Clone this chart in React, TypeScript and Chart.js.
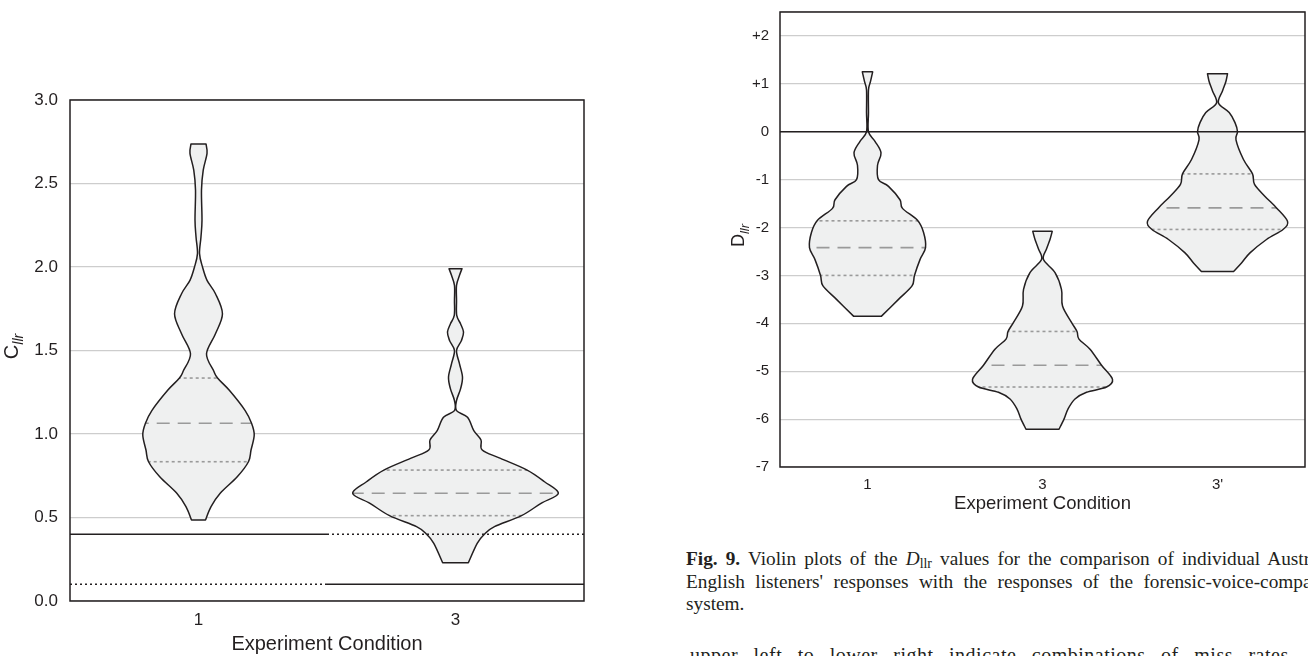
import React, { useEffect, useRef } from "react";
import { Chart, registerables } from "chart.js";

Chart.register(...registerables);

// ---------- C_llr panel ----------
const cllrConditions = ["1", "3"];
// violin outlines: value levels (bottom to top) with relative density (1 = widest violin)
const cllrLevels1 = [0.485, 0.565, 0.645, 0.744, 0.834, 0.904, 0.994, 1.064, 1.14, 1.26, 1.335, 1.38, 1.48, 1.6, 1.72, 1.84, 1.92, 2.0, 2.08, 2.18, 2.28, 2.46, 2.58, 2.68, 2.737];
const cllrDensity1 = [0.068, 0.122, 0.211, 0.377, 0.486, 0.511, 0.542, 0.516, 0.454, 0.302, 0.185, 0.146, 0.078, 0.165, 0.233, 0.165, 0.083, 0.039, 0.01, 0.024, 0.034, 0.029, 0.046, 0.083, 0.073];
const cllrLevels3 = [0.229, 0.345, 0.4, 0.445, 0.511, 0.585, 0.645, 0.714, 0.784, 0.854, 0.904, 0.964, 1.02, 1.1, 1.14, 1.2, 1.27, 1.34, 1.42, 1.5, 1.56, 1.61, 1.66, 1.71, 1.8, 1.89, 1.95, 1.99];
const cllrDensity3 = [0.125, 0.211, 0.282, 0.379, 0.642, 0.832, 1.0, 0.866, 0.697, 0.438, 0.26, 0.248, 0.178, 0.117, 0.01, 0.01, 0.049, 0.068, 0.039, 0.01, 0.058, 0.078, 0.049, 0.012, 0.01, 0.01, 0.039, 0.063];
const cllrQ1 = [0.834, 0.511];
const cllrMedian = [1.064, 0.645];
const cllrQ3 = [1.335, 0.784];
// reference levels per condition
const cllrSolidRef = [0.4, 0.1];
const cllrDottedRef = [0.1, 0.4];

// ---------- D_llr panel ----------
const dllrConditions = ["1", "3", "3'"];
const dllrLevels1 = [-3.85, -3.5, -3.22, -3.0, -2.67, -2.42, -2.1, -1.85, -1.6, -1.42, -1.14, -1.0, -0.7, -0.44, -0.2, 0.0, 0.4, 0.87, 1.05, 1.25];
const dllrDensity1 = [0.2, 0.443, 0.636, 0.671, 0.75, 0.829, 0.8, 0.714, 0.5, 0.464, 0.3, 0.157, 0.143, 0.193, 0.107, 0.014, 0.014, 0.014, 0.043, 0.074];
const dllrLevels3 = [-6.21, -6.0, -5.79, -5.58, -5.44, -5.33, -5.17, -4.875, -4.54, -4.33, -4.17, -3.98, -3.64, -3.29, -2.94, -2.67, -2.45, -2.25, -2.08];
const dllrDensity3 = [0.236, 0.307, 0.364, 0.464, 0.629, 0.914, 1.0, 0.843, 0.679, 0.521, 0.493, 0.414, 0.286, 0.271, 0.179, 0.014, 0.057, 0.107, 0.139];
const dllrLevels3p = [-2.92, -2.74, -2.53, -2.25, -2.04, -1.87, -1.59, -1.35, -1.1, -0.88, -0.58, -0.17, 0.0, 0.19, 0.4, 0.6, 0.85, 1.05, 1.21];
const dllrDensity3p = [0.229, 0.343, 0.464, 0.7, 0.936, 1.0, 0.843, 0.679, 0.529, 0.5, 0.371, 0.264, 0.286, 0.25, 0.167, 0.014, 0.071, 0.12, 0.143];
const dllrQ1 = [-3.0, -5.33, -2.04];
const dllrMedian = [-2.42, -4.875, -1.59];
const dllrQ3 = [-1.86, -4.17, -0.88];

const INK = "#231f20";
const FILL = "#eff0f0";
const GRID = "#cdcdcd";
const QUART = "#9a9a9a";
const SANS = '"Liberation Sans", Arial, sans-serif';

type Pt = { x: number; y: number };
type ViolinSpec = { levels: number[]; density: number[]; q1: number; median: number; q3: number };

const cllrViolins: ViolinSpec[] = [
  { levels: cllrLevels1, density: cllrDensity1, q1: cllrQ1[0], median: cllrMedian[0], q3: cllrQ3[0] },
  { levels: cllrLevels3, density: cllrDensity3, q1: cllrQ1[1], median: cllrMedian[1], q3: cllrQ3[1] },
];
const dllrViolins: ViolinSpec[] = [
  { levels: dllrLevels1, density: dllrDensity1, q1: dllrQ1[0], median: dllrMedian[0], q3: dllrQ3[0] },
  { levels: dllrLevels3, density: dllrDensity3, q1: dllrQ1[1], median: dllrMedian[1], q3: dllrQ3[1] },
  { levels: dllrLevels3p, density: dllrDensity3p, q1: dllrQ1[2], median: dllrMedian[2], q3: dllrQ3[2] },
];

// Catmull-Rom spline through the points, continuing the current path
function traceSmooth(ctx: CanvasRenderingContext2D, pts: Pt[]) {
  ctx.lineTo(pts[0].x, pts[0].y);
  const t = 1 / 6;
  for (let i = 0; i < pts.length - 1; i++) {
    const p0 = pts[i - 1] || pts[i];
    const p1 = pts[i];
    const p2 = pts[i + 1];
    const p3 = pts[i + 2] || p2;
    ctx.bezierCurveTo(
      p1.x + (p2.x - p0.x) * t,
      p1.y + (p2.y - p0.y) * t,
      p2.x - (p3.x - p1.x) * t,
      p2.y - (p3.y - p1.y) * t,
      p2.x,
      p2.y
    );
  }
}

function violinPlugin(violins: ViolinSpec[]) {
  return {
    id: "violins",
    afterDatasetsDraw(chart: any) {
      const { ctx, scales } = chart;
      const xs = scales.x;
      const ys = scales.y;
      const step = xs.getPixelForValue(1) - xs.getPixelForValue(0);
      const maxHalf = 0.4 * step;
      violins.forEach((v, i) => {
        const cx = xs.getPixelForValue(i);
        const right: Pt[] = v.levels.map((lv, k) => ({ x: cx + v.density[k] * maxHalf, y: ys.getPixelForValue(lv) }));
        const left: Pt[] = right.map((p) => ({ x: 2 * cx - p.x, y: p.y })).reverse();
        const outline = () => {
          ctx.beginPath();
          ctx.moveTo(left[left.length - 1].x, left[left.length - 1].y);
          traceSmooth(ctx, right);
          traceSmooth(ctx, left);
          ctx.closePath();
        };
        ctx.save();
        outline();
        ctx.fillStyle = FILL;
        ctx.fill();
        ctx.clip();
        ctx.strokeStyle = QUART;
        ctx.lineWidth = 1.6;
        const hline = (val: number, dash: number[]) => {
          const py = ys.getPixelForValue(val);
          ctx.setLineDash(dash);
          ctx.beginPath();
          ctx.moveTo(cx - maxHalf - 2, py);
          ctx.lineTo(cx + maxHalf + 2, py);
          ctx.stroke();
        };
        hline(v.q1, [3, 3]);
        hline(v.q3, [3, 3]);
        hline(v.median, [13, 8]);
        ctx.restore();
        ctx.save();
        outline();
        ctx.strokeStyle = INK;
        ctx.lineWidth = 1.5;
        ctx.lineJoin = "round";
        ctx.stroke();
        ctx.restore();
      });
    },
  };
}

function framePlugin() {
  return {
    id: "frame",
    afterDraw(chart: any) {
      const { ctx, chartArea: a } = chart;
      ctx.save();
      ctx.strokeStyle = INK;
      ctx.lineWidth = 1.5;
      ctx.strokeRect(a.left, a.top, a.right - a.left, a.bottom - a.top);
      ctx.restore();
    },
  };
}

function refLinesPlugin(solid: number[], dotted: number[]) {
  return {
    id: "refLines",
    afterDraw(chart: any) {
      const { ctx, scales } = chart;
      const xs = scales.x;
      const ys = scales.y;
      const step = xs.getPixelForValue(1) - xs.getPixelForValue(0);
      ctx.save();
      ctx.strokeStyle = INK;
      ctx.lineWidth = 1.5;
      solid.forEach((val, i) => {
        const cx = xs.getPixelForValue(i);
        const py = ys.getPixelForValue(val);
        ctx.setLineDash([]);
        ctx.beginPath();
        ctx.moveTo(cx - step / 2, py);
        ctx.lineTo(cx + step / 2, py);
        ctx.stroke();
      });
      dotted.forEach((val, i) => {
        const cx = xs.getPixelForValue(i);
        const py = ys.getPixelForValue(val);
        ctx.setLineDash([2, 3]);
        ctx.beginPath();
        ctx.moveTo(cx - step / 2, py);
        ctx.lineTo(cx + step / 2, py);
        ctx.stroke();
      });
      ctx.restore();
    },
  };
}

function zeroLinePlugin() {
  return {
    id: "zeroLine",
    afterDraw(chart: any) {
      const { ctx, chartArea: a, scales } = chart;
      const py = scales.y.getPixelForValue(0);
      ctx.save();
      ctx.strokeStyle = INK;
      ctx.lineWidth = 1.5;
      ctx.beginPath();
      ctx.moveTo(a.left, py);
      ctx.lineTo(a.right, py);
      ctx.stroke();
      ctx.restore();
    },
  };
}

function yTitlePlugin(main: string, sub: string, mainSize: number, subSize: number, xPos: number, dy: number) {
  return {
    id: "yTitle",
    afterDraw(chart: any) {
      const { ctx, chartArea: a } = chart;
      const cy = (a.top + a.bottom) / 2 + dy;
      ctx.save();
      ctx.fillStyle = INK;
      ctx.font = `${mainSize}px ${SANS}`;
      const w1 = ctx.measureText(main).width;
      ctx.font = `italic ${subSize}px ${SANS}`;
      const w2 = ctx.measureText(sub).width;
      ctx.translate(xPos, cy);
      ctx.rotate(-Math.PI / 2);
      ctx.textBaseline = "alphabetic";
      const start = -(w1 + w2) / 2;
      ctx.font = `${mainSize}px ${SANS}`;
      ctx.fillText(main, start, 0);
      ctx.font = `italic ${subSize}px ${SANS}`;
      ctx.fillText(sub, start + w1, subSize * 0.35);
      ctx.restore();
    },
  };
}

function CllrChart() {
  const ref = useRef<HTMLCanvasElement | null>(null);
  useEffect(() => {
    if (!ref.current) return;
    const chart = new Chart(ref.current, {
      type: "line",
      data: { labels: cllrConditions, datasets: [] },
      options: {
        animation: false,
        responsive: false,
        maintainAspectRatio: false,
        devicePixelRatio: 1,
        layout: { padding: { top: 100, right: 16, bottom: 0, left: 0 } },
        plugins: { legend: { display: false }, tooltip: { enabled: false } },
        scales: {
          x: {
            type: "category",
            offset: true,
            grid: { display: false, drawTicks: false },
            border: { display: false },
            ticks: { color: INK, font: { family: SANS, size: 17 }, padding: 9 },
            title: {
              display: true,
              text: "Experiment Condition",
              color: INK,
              font: { family: SANS, size: 20 },
              padding: { top: 0, bottom: 0 },
            },
            afterFit: (s: any) => {
              s.height = 55;
            },
          },
          y: {
            min: 0,
            max: 3,
            ticks: {
              stepSize: 0.5,
              color: INK,
              font: { family: SANS, size: 17 },
              padding: 12,
              callback: (v: any) => Number(v).toFixed(1),
            },
            grid: { color: GRID, lineWidth: 1.2, drawTicks: false },
            border: { display: false },
            afterFit: (s: any) => {
              s.width = 70;
              s.paddingTop = 0;
              s.paddingBottom = 0;
            },
          },
        },
      } as any,
      plugins: [
        violinPlugin(cllrViolins),
        refLinesPlugin(cllrSolidRef, cllrDottedRef),
        framePlugin(),
        yTitlePlugin("C", "llr", 20, 14, 18, -4),
      ] as any,
    });
    return () => chart.destroy();
  }, []);
  return (
    <canvas
      ref={ref}
      width={600}
      height={656}
      style={{ position: "absolute", left: 0, top: 0, width: 600, height: 656, display: "block" }}
    />
  );
}

function DllrChart() {
  const ref = useRef<HTMLCanvasElement | null>(null);
  useEffect(() => {
    if (!ref.current) return;
    const chart = new Chart(ref.current, {
      type: "line",
      data: { labels: dllrConditions, datasets: [] },
      options: {
        animation: false,
        responsive: false,
        maintainAspectRatio: false,
        devicePixelRatio: 1,
        layout: { padding: { top: 12, right: 3, bottom: 0, left: 0 } },
        plugins: { legend: { display: false }, tooltip: { enabled: false } },
        scales: {
          x: {
            type: "category",
            offset: true,
            grid: { display: false, drawTicks: false },
            border: { display: false },
            ticks: { color: INK, font: { family: SANS, size: 15 }, padding: 9 },
            title: {
              display: true,
              text: "Experiment Condition",
              color: INK,
              font: { family: SANS, size: 18.5 },
              padding: { top: 0, bottom: 5 },
            },
            afterFit: (s: any) => {
              s.height = 53;
            },
          },
          y: {
            min: -7,
            max: 2.5,
            ticks: {
              stepSize: 1,
              color: INK,
              font: { family: SANS, size: 15 },
              padding: 11,
              callback: (v: any) => {
                const n = Number(v);
                if (!Number.isInteger(n)) return "";
                return n > 0 ? "+" + n : String(n);
              },
            },
            grid: { color: GRID, lineWidth: 1.2, drawTicks: false },
            border: { display: false },
            afterFit: (s: any) => {
              s.width = 90;
              s.paddingTop = 0;
              s.paddingBottom = 0;
            },
          },
        },
      } as any,
      plugins: [
        violinPlugin(dllrViolins),
        zeroLinePlugin(),
        framePlugin(),
        yTitlePlugin("D", "llr", 18, 13, 54, -4),
      ] as any,
    });
    return () => chart.destroy();
  }, []);
  return (
    <canvas
      ref={ref}
      width={618}
      height={520}
      style={{ position: "absolute", left: 690, top: 0, width: 618, height: 520, display: "block" }}
    />
  );
}

const captionStyle: React.CSSProperties = {
  position: "absolute",
  left: 686,
  whiteSpace: "nowrap",
  fontFamily: '"Liberation Serif", "Times New Roman", serif',
  fontSize: 19.3,
  lineHeight: "22.5px",
  color: INK,
};

const subStyle: React.CSSProperties = { fontSize: "72%", verticalAlign: "-0.25em", lineHeight: 0 };

export default function App() {
  return (
    <div
      style={{
        position: "absolute",
        left: 0,
        top: 0,
        width: 1308,
        height: 656,
        overflow: "hidden",
        background: "#fff",
      }}
    >
      <CllrChart />
      <DllrChart />
      <div style={{ ...captionStyle, top: 548, wordSpacing: "3.3px" }}>
        <b>Fig. 9.</b> Violin plots of the <i>D</i>
        <span style={subStyle}>llr</span> values for the comparison of individual Australian
      </div>
      <div style={{ ...captionStyle, top: 570.5, wordSpacing: "5.6px" }}>
        English listeners' responses with the responses of the forensic-voice-comparison
      </div>
      <div style={{ ...captionStyle, top: 593 }}>system.</div>
      <div
        style={{
          ...captionStyle,
          left: 690,
          top: 643,
          fontSize: 20,
          lineHeight: "24px",
          letterSpacing: "0.5px",
          wordSpacing: "10px",
        }}
      >
        upper left to lower right indicate combinations of miss rates
      </div>
    </div>
  );
}
